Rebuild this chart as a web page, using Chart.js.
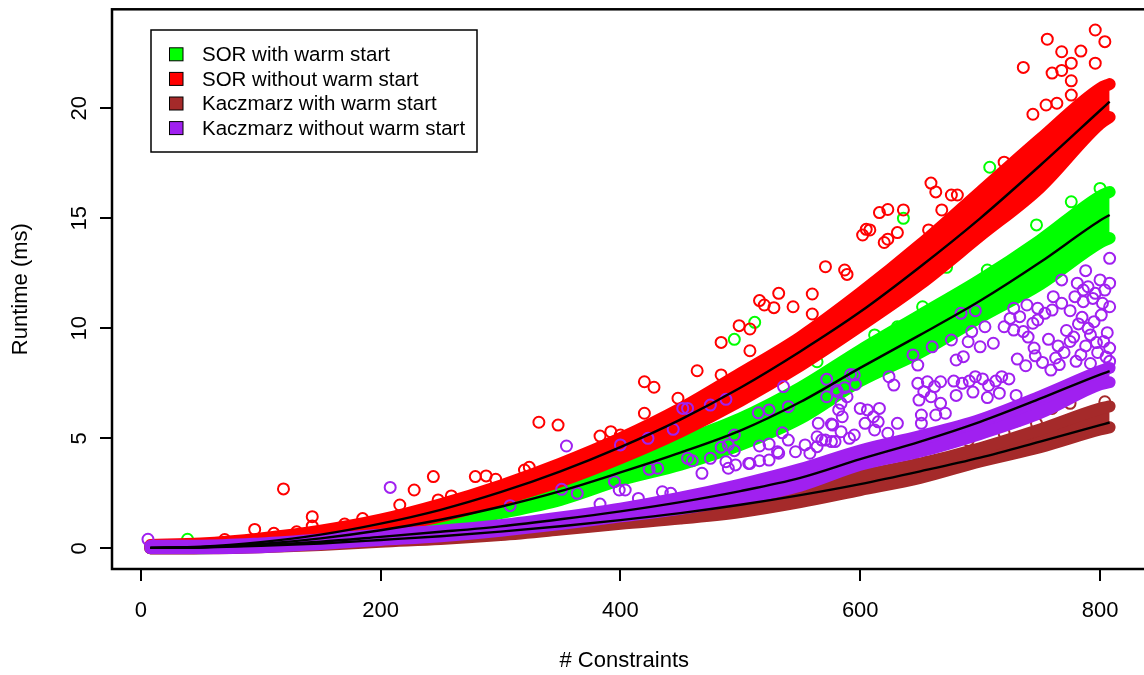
<!DOCTYPE html>
<html>
<head>
<meta charset="utf-8">
<title>Runtime vs constraints</title>
<script src="https://cdn.jsdelivr.net/npm/chart.js@4.4.1/dist/chart.umd.min.js"></script>
<style>
  html, body { margin: 0; padding: 0; background: #fff; }
  #wrap { width: 1144px; height: 675px; }
</style>
</head>
<body>
<div id="wrap"><canvas id="myChart"></canvas></div>
<script>
const seriesNames = ['SOR with warm start', 'SOR without warm start', 'Kaczmarz with warm start', 'Kaczmarz without warm start'];
const seriesColors = ['#00ff00', '#ff0000', '#a52a2a', '#a020f0'];

const xTicks = [0, 200, 400, 600, 800];
const yTicks = [0, 5, 10, 15, 20];

// constraint counts where the dense bands and fitted curves were read
const bandX = [8, 50, 100, 150, 200, 250, 300, 350, 400, 450, 500, 550, 600, 650, 700, 750, 800, 808];

// SOR with warm start (green)
const greenHi  = [0.1, 0.15, 0.3, 0.55, 0.95, 1.45, 2.05, 2.9, 3.9, 4.85, 5.9, 7.3, 9.0, 10.6, 12.2, 14.0, 16.0, 16.2];
const greenLo  = [0.0, 0.0, 0.1, 0.35, 0.7, 1.1, 1.6, 2.2, 3.1, 3.8, 4.7, 5.9, 7.6, 8.9, 10.5, 12.0, 13.9, 14.1];
const greenFit = [0.02, 0.05, 0.2, 0.45, 0.82, 1.3, 1.89, 2.6, 3.45, 4.35, 5.35, 6.65, 8.2, 9.7, 11.25, 13.0, 14.9, 15.15];
const greenExtra = [[39, 0.41], [495, 9.5], [512, 10.27], [564, 8.48], [612, 9.7], [631, 10.07], [636, 15.0], [652, 10.98],
  [672, 12.77], [706, 12.65], [708, 17.32], [747, 14.7], [776, 15.75], [800, 16.36]];

// SOR without warm start (red)
const redHi  = [0.15, 0.22, 0.45, 0.8, 1.3, 2.0, 2.85, 3.85, 5.0, 6.35, 7.95, 9.6, 11.6, 13.8, 16.2, 18.6, 20.9, 21.1];
const redLo  = [0.0, 0.02, 0.15, 0.45, 0.9, 1.45, 2.2, 3.05, 4.1, 5.3, 6.7, 8.3, 10.1, 12.0, 14.2, 16.4, 19.3, 19.6];
const redFit = [0.02, 0.07, 0.28, 0.62, 1.12, 1.75, 2.55, 3.5, 4.6, 5.85, 7.3, 8.95, 10.75, 12.8, 15.0, 17.4, 19.9, 20.3];
const redExtra = [[70, 0.4], [95, 0.86], [111, 0.68], [119, 2.7], [130, 0.75], [143, 1.44], [143, 1.01], [170, 1.1], [185, 1.35],
  [216, 1.97], [228, 2.65], [244, 3.26], [248, 2.2], [259, 2.38], [279, 3.26], [288, 3.29], [296, 3.14], [320, 3.56],
  [324, 3.68], [332, 5.73], [348, 5.6], [383, 5.1], [392, 5.3], [400, 5.15], [420, 7.57], [428, 7.32], [420, 6.14],
  [448, 6.82], [464, 8.07], [484, 9.36], [484, 7.88], [499, 10.12], [508, 9.97], [508, 8.98], [516, 11.26], [520, 11.06],
  [528, 10.94], [532, 11.59], [544, 10.98], [560, 11.56], [560, 10.65], [571, 12.8], [587, 12.65], [589, 12.45],
  [602, 14.24], [605, 14.5], [608, 14.47], [616, 15.26], [620, 13.9], [623, 15.4], [623, 14.05], [631, 14.35],
  [636, 15.38], [657, 14.47], [659, 16.6], [663, 16.2], [668, 15.38], [676, 16.06], [681, 16.06], [720, 17.55],
  [736, 21.86], [744, 19.73], [755, 20.15], [756, 23.14], [760, 21.6], [764, 20.23], [768, 22.57], [768, 21.72],
  [776, 22.05], [776, 21.25], [776, 20.6], [784, 22.6], [796, 23.56], [796, 22.05], [804, 23.03]];

// Kaczmarz with warm start (brown)
const brownHi  = [0.08, 0.08, 0.15, 0.28, 0.42, 0.58, 0.8, 1.05, 1.38, 1.7, 2.12, 2.65, 3.3, 3.85, 4.55, 5.4, 6.35, 6.45];
const brownLo  = [0.0, 0.0, 0.05, 0.15, 0.3, 0.42, 0.6, 0.85, 1.12, 1.35, 1.65, 2.1, 2.65, 3.2, 3.95, 4.6, 5.4, 5.5];
const brownFit = [0.02, 0.04, 0.11, 0.22, 0.38, 0.55, 0.76, 1.0, 1.28, 1.6, 1.98, 2.42, 2.92, 3.5, 4.12, 4.85, 5.6, 5.72];
const brownExtra = [[600, 3.6], [650, 4.24], [690, 4.9], [720, 5.23], [731, 5.8], [747, 5.68], [760, 6.36], [775, 6.59], [804, 6.66]];

// Kaczmarz without warm start (purple)
const purpleHi  = [0.12, 0.12, 0.22, 0.4, 0.62, 0.8, 1.05, 1.4, 1.8, 2.3, 2.9, 3.6, 4.45, 5.1, 5.85, 6.9, 8.05, 8.2];
const purpleLo  = [0.0, 0.0, 0.05, 0.2, 0.38, 0.55, 0.8, 1.1, 1.45, 1.8, 2.25, 2.85, 3.8, 4.4, 5.2, 6.15, 7.45, 7.55];
const purpleFit = [0.02, 0.05, 0.15, 0.3, 0.52, 0.75, 1.0, 1.32, 1.68, 2.1, 2.6, 3.2, 4.05, 4.85, 5.75, 6.8, 7.9, 8.05];
const purpleExtra = [[6, 0.41], [208, 2.77], [308, 1.94], [351, 2.68], [355, 4.65], [364, 2.5], [383, 2.01], [395, 3.03],
  [399, 2.65], [400, 4.7], [404, 2.65], [415, 2.27], [423, 5.0], [424, 3.59], [431, 3.64], [435, 2.57], [442, 2.5],
  [444, 5.41], [452, 6.36], [456, 6.36], [456, 4.09], [460, 3.98], [468, 3.41], [475, 6.51], [475, 4.09], [484, 4.59],
  [488, 6.77], [488, 3.94], [490, 4.7], [490, 3.64], [495, 5.15], [495, 4.44], [496, 3.79], [507, 3.86], [508, 3.86],
  [515, 6.16], [516, 4.65], [516, 3.98], [524, 6.29], [524, 4.74], [524, 4.01], [531, 4.39], [532, 4.32], [535, 5.25],
  [536, 7.35], [540, 6.44], [540, 4.92], [546, 4.39], [554, 4.7], [558, 4.32], [564, 5.07], [564, 4.62], [565, 5.68],
  [568, 4.92], [571, 4.92], [572, 7.68], [572, 6.89], [576, 5.65], [576, 4.85], [577, 5.6], [579, 4.85], [580, 7.2],
  [581, 7.12], [582, 6.29], [584, 6.59], [584, 5.3], [585, 5.98], [587, 7.3], [589, 6.89], [591, 5.0], [592, 7.9],
  [596, 7.45], [595, 7.88], [595, 5.15], [600, 6.36], [604, 5.68], [606, 6.29], [611, 5.98], [612, 5.38], [615, 5.75],
  [616, 6.36], [623, 5.23], [624, 7.8], [628, 7.42], [631, 5.68], [644, 8.79], [648, 8.33], [648, 7.5], [649, 6.74],
  [651, 6.06], [651, 5.68], [653, 7.12], [656, 7.57], [659, 6.89], [660, 9.16], [662, 7.35], [663, 6.06], [667, 7.57],
  [667, 6.59], [671, 6.14], [676, 9.47], [678, 7.6], [680, 8.56], [680, 6.95], [684, 10.68], [685, 7.5], [686, 8.71],
  [690, 9.39], [691, 7.6], [693, 9.85], [694, 7.1], [696, 10.8], [696, 7.8], [700, 9.16], [702, 7.7], [704, 10.07],
  [706, 6.85], [707, 7.4], [711, 9.32], [713, 7.6], [716, 7.05], [718, 7.8], [720, 10.07], [724, 7.7], [725, 10.45],
  [728, 10.91], [728, 9.92], [730, 6.95], [731, 8.6], [733, 10.53], [736, 9.85], [738, 8.3], [739, 11.06], [740, 9.6],
  [744, 10.23], [745, 9.1], [746, 8.75], [748, 10.91], [748, 10.38], [752, 8.45], [754, 10.68], [757, 9.5], [759, 8.1],
  [761, 11.44], [760, 10.83], [763, 8.65], [765, 9.2], [766, 8.35], [768, 12.2], [768, 11.14], [770, 8.9], [772, 9.9],
  [775, 9.4], [775, 10.8], [778, 9.6], [779, 11.44], [780, 8.5], [781, 12.05], [782, 10.2], [784, 8.8], [785, 10.5],
  [786, 11.74], [786, 11.21], [788, 9.2], [788, 12.62], [790, 11.89], [790, 10.0], [792, 8.4], [792, 9.7], [794, 11.36],
  [795, 10.3], [796, 11.59], [797, 9.35], [798, 8.9], [800, 12.2], [801, 10.6], [802, 11.14], [803, 9.4], [804, 11.74],
  [805, 8.7], [806, 9.8], [808, 13.18], [808, 12.05], [808, 10.98], [808, 9.1], [808, 8.5]];

const ctx = document.getElementById('myChart').getContext('2d');
Chart.defaults.font.family = '"Liberation Sans", Arial, sans-serif';
Chart.defaults.color = '#000';

const toPoints = (ys) => bandX.map((x, i) => ({ x: x, y: ys[i] }));
const toPairs = (list) => list.map(p => ({ x: p[0], y: p[1] }));

// drawing layers: green at the bottom, purple on top, fitted curves above all
const series = [
  { color: seriesColors[0], hi: greenHi, lo: greenLo, fit: greenFit, extra: greenExtra, order: 4 },
  { color: seriesColors[1], hi: redHi, lo: redLo, fit: redFit, extra: redExtra, order: 3 },
  { color: seriesColors[2], hi: brownHi, lo: brownLo, fit: brownFit, extra: brownExtra, order: 2 },
  { color: seriesColors[3], hi: purpleHi, lo: purpleLo, fit: purpleFit, extra: purpleExtra, order: 1 }
];

const datasets = [];
series.forEach(s => {
  // dense cloud of overlapping circles: band between lo and hi, edges widened by the circle radius
  datasets.push({
    data: toPoints(s.lo), showLine: true, borderColor: s.color, borderWidth: 12,
    borderCapStyle: 'round', borderJoinStyle: 'round', cubicInterpolationMode: 'monotone',
    pointRadius: 0, fill: false, order: s.order
  });
  datasets.push({
    data: toPoints(s.hi), showLine: true, borderColor: s.color, backgroundColor: s.color, borderWidth: 12,
    borderCapStyle: 'round', borderJoinStyle: 'round', cubicInterpolationMode: 'monotone',
    pointRadius: 0, fill: '-1', order: s.order
  });
  datasets.push({
    data: toPairs(s.extra), showLine: false, pointRadius: 5.5, pointBorderWidth: 2,
    pointBorderColor: s.color, pointBackgroundColor: 'rgba(0,0,0,0)', order: s.order
  });
});
series.forEach(s => {
  datasets.push({
    data: toPoints(s.fit), showLine: true, borderColor: '#000', borderWidth: 2.4,
    cubicInterpolationMode: 'monotone', pointRadius: 0, fill: false, order: 0
  });
});

const frame = {
  id: 'frame',
  afterDraw(chart) {
    const c = chart.ctx;
    const a = chart.chartArea;
    c.save();
    c.strokeStyle = '#000';
    c.lineWidth = 2.5;
    // the plot box runs past the right edge of the picture
    c.strokeRect(a.left, a.top, a.right + 20 - a.left, a.bottom - a.top);

    // y tick labels, rotated as in R
    const ys = chart.scales.y;
    c.fillStyle = '#000';
    c.font = '22px "Liberation Sans", Arial, sans-serif';
    c.textAlign = 'center';
    c.textBaseline = 'middle';
    yTicks.forEach(v => {
      c.save();
      c.translate(79, ys.getPixelForValue(v));
      c.rotate(-Math.PI / 2);
      c.fillText(String(v), 0, 1);
      c.restore();
    });

    // legend box
    c.fillStyle = '#fff';
    c.fillRect(151, 30, 326, 122);
    c.lineWidth = 1.5;
    c.strokeRect(151, 30, 326, 122);
    c.font = '20.5px "Liberation Sans", Arial, sans-serif';
    c.textAlign = 'left';
    seriesNames.forEach((name, i) => {
      const y = 54.3 + i * 24.6;
      c.fillStyle = seriesColors[i];
      c.fillRect(169.5, y - 6.5, 13.5, 13);
      c.lineWidth = 1;
      c.strokeRect(169.5, y - 6.5, 13.5, 13);
      c.fillStyle = '#000';
      c.fillText(name, 202, y + 1);
    });
    c.restore();
  }
};

const chart = new Chart(ctx, {
  type: 'scatter',
  data: { datasets: datasets },
  options: {
    responsive: true,
    maintainAspectRatio: false,
    animation: false,
    events: [],
    layout: { padding: { top: 9.3, left: 0, right: 0, bottom: 0 } },
    plugins: {
      legend: { display: false },
      tooltip: { enabled: false }
    },
    scales: {
      x: {
        type: 'linear',
        min: -24,
        max: 830.4,
        afterBuildTicks: (axis) => { axis.ticks = xTicks.map(v => ({ value: v })); },
        afterFit: (axis) => { axis.height = 106; },
        border: { display: false },
        grid: { drawOnChartArea: false, drawTicks: true, tickLength: 12, color: '#000', lineWidth: 2 },
        ticks: { font: { size: 22 }, padding: 17, maxRotation: 0 },
        title: { display: true, text: '# Constraints', font: { size: 22 }, padding: { top: 0, bottom: 1 } }
      },
      y: {
        type: 'linear',
        min: -0.94,
        max: 24.5,
        afterBuildTicks: (axis) => { axis.ticks = yTicks.map(v => ({ value: v })); },
        afterFit: (axis) => { axis.width = 112; },
        border: { display: false },
        grid: { drawOnChartArea: false, drawTicks: true, tickLength: 12, color: '#000', lineWidth: 2 },
        ticks: { display: false },
        title: { display: true, text: 'Runtime (ms)', font: { size: 22 }, padding: { top: 8, bottom: 0 } }
      }
    }
  },
  plugins: [frame]
});
</script>
</body>
</html>
